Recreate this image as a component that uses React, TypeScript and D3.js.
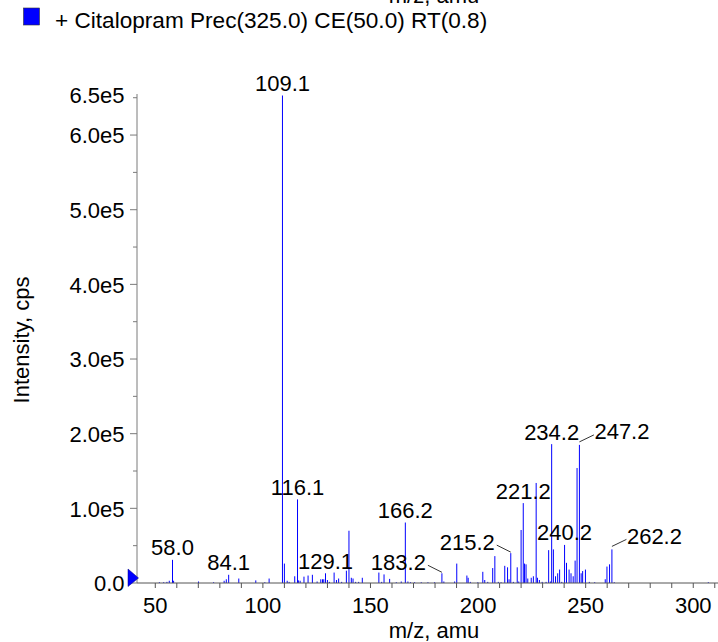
import React from "react";
import * as d3 from "d3";

// ---- data ----
const peakMz: number[] = [
  51.9, 53.9, 55.4, 56.5, 58.0, 58.5, 70.1, 77.1, 82.0, 83.0, 84.1, 88.8,
  96.7, 100.9, 102.9, 109.1, 110.0, 111.3, 112.2, 114.8, 116.1, 116.5, 117.3,
  119.1, 121.0, 123.0, 125.2, 126.9, 127.7, 128.3, 129.1, 130.0, 130.9, 133.1,
  134.2, 135.2, 136.6, 138.8, 140.0, 141.1, 141.9, 143.1, 144.5, 146.2, 153.9,
  155.2, 156.3, 158.9, 162.0, 164.3, 166.2, 167.4, 168.6, 170.5, 173.6, 176.7,
  179.8, 183.2, 184.1, 189.1, 190.1, 194.8, 195.4, 196.4, 199.9, 202.2, 203.1,
  204.5, 206.8, 207.8, 209.4, 210.7, 212.4, 213.7, 214.4, 215.2, 216.4, 218.2,
  218.9, 220.0, 221.0, 221.6, 222.3, 223.1, 224.7, 225.7, 227.0, 227.6, 228.5,
  229.8, 231.6, 232.8, 233.6, 234.2, 235.0, 236.0, 237.0, 237.9, 238.9, 240.2,
  241.1, 242.3, 243.2, 244.2, 245.1, 246.0, 247.1, 247.9, 248.6, 249.9, 251.7,
  254.2, 259.1, 259.9, 261.1, 262.2, 263.3, 307.0,
];
const peakIntensity: number[] = [
  1000, 1000, 1500, 3000, 31000, 3000, 2000, 1000, 3000, 5000, 11000, 6000,
  3500, 1000, 6000, 653000, 26000, 3000, 1500, 9000, 112000, 3500, 3000,
  8500, 10000, 11000, 2000, 5000, 5000, 5000, 13000, 4000, 1500, 14000,
  4000, 6000, 1500, 16500, 70000, 7000, 6000, 1500, 1500, 7000, 14000,
  1500, 11500, 5500, 1000, 2000, 81000, 2000, 1000, 1000, 1000, 1000,
  1000, 13000, 2000, 2000, 26000, 10000, 7000, 1500, 1000, 15000, 4000,
  1500, 20000, 36000, 1500, 1000, 23000, 21000, 5000, 40000, 1500, 21000,
  2000, 71000, 107000, 26000, 25000, 6000, 7000, 9000, 134000, 7000, 4000,
  1500, 1500, 44000, 2000, 186000, 45000, 9000, 13000, 18000, 1500, 51000,
  27000, 18000, 13000, 9000, 30000, 154000, 185000, 13000, 16000, 18000, 1500,
  1000, 5000, 22000, 25000, 45000, 1000, 1000,
];

const labelMz: number[] = [58.0, 84.1, 109.1, 116.1, 129.1, 166.2, 183.2, 215.2, 221.0, 234.2, 240.2, 247.1, 262.2];
const labelText: string[] = ["58.0", "84.1", "109.1", "116.1", "129.1", "166.2", "183.2", "215.2", "221.2", "234.2", "240.2", "247.2", "262.2"];
// -1 = label placed left with leader, 1 = right with leader, 0 = centered above
const labelSide: number[] = [0, 0, 0, 0, 0, 0, -1, -1, 0, 0, 0, 1, 1];

const xMajorTicks: number[] = [50, 100, 150, 200, 250, 300];
const yLabelTicks: number[] = [0, 100000, 200000, 300000, 400000, 500000, 600000, 650000];
const yLabelText: string[] = ["0.0", "1.0e5", "2.0e5", "3.0e5", "4.0e5", "5.0e5", "6.0e5", "6.5e5"];

const legendText = "+ Citalopram Prec(325.0) CE(50.0) RT(0.8)";
const xTitle = "m/z, amu";
const yTitle = "Intensity, cps";

const W = 718;
const H = 642;
const FONT = "'Liberation Sans', Arial, Helvetica, sans-serif";

export default function App() {
  const x = d3.scaleLinear().domain([41.5, 311.5]).range([137, 718]);
  const y = d3.scaleLinear().domain([0, 655000]).range([583, 94]);
  const x0 = x(41.5);
  const y0 = y(0);
  const blue = "#0000ff";
  const axisColor = "#7a7a7a";

  const xMinor = d3.range(50, 311, 10);
  const yMinor = d3.range(50000, 600000, 100000);

  const idxOf = (m: number) => {
    let best = 0;
    peakMz.forEach((v, i) => {
      if (Math.abs(v - m) < Math.abs(peakMz[best] - m)) best = i;
    });
    return best;
  };

  return (
    <svg
      width={W}
      height={H}
      style={{ position: "absolute", left: 0, top: 0, background: "#fff" }}
      fontFamily={FONT}
    >
      <rect x={0} y={0} width={W} height={H} fill="#fff" />
      {/* cut-off top title */}
      <text x={434} y={2.5} fontSize={22} textAnchor="middle" fill="#000">
        {xTitle}
      </text>
      {/* legend */}
      <rect x={23.5} y={8} width={16} height={17} fill={blue} stroke="#333" strokeWidth={0.6} />
      <text x={55} y={28} fontSize={22.6} fill="#000">
        {legendText}
      </text>

      {/* bars */}
      <g>
        {peakMz.map((m, i) => (
          <line
            key={i}
            x1={x(m)}
            x2={x(m)}
            y1={y0}
            y2={y(peakIntensity[i])}
            stroke={blue}
            strokeWidth={1}
          />
        ))}
      </g>

      {/* axes */}
      <line x1={x0} x2={x0} y1={y0} y2={y(655000)} stroke={axisColor} strokeWidth={1} />
      <line x1={x0} x2={W} y1={y0} y2={y0} stroke="#555" strokeWidth={1} />
      {xMinor.map((t) => (
        <line key={"xt" + t} x1={x(t)} x2={x(t)} y1={y0} y2={y0 + 5} stroke="#555" strokeWidth={1} />
      ))}
      {xMajorTicks.map((t) => (
        <text key={"xl" + t} x={x(t)} y={613} fontSize={22} textAnchor="middle" fill="#000">
          {t}
        </text>
      ))}
      {yLabelTicks.map((t) => (
        <line
          key={"yt" + t}
          x1={x0 - (t % 100000 === 0 ? 7 : 4)}
          x2={x0}
          y1={y(t)}
          y2={y(t)}
          stroke={axisColor}
          strokeWidth={1}
        />
      ))}
      {yMinor.map((t) => (
        <line key={"ym" + t} x1={x0 - 4} x2={x0} y1={y(t)} y2={y(t)} stroke={axisColor} strokeWidth={1} />
      ))}
      {yLabelTicks.map((t, i) => (
        <text
          key={"yl" + t}
          x={124.5}
          y={y(t) + (i === yLabelTicks.length - 1 ? 5.5 : 8.3)}
          fontSize={22}
          textAnchor="end"
          fill="#000"
        >
          {yLabelText[i]}
        </text>
      ))}
      {/* origin marker */}
      <polygon
        points={`${x0 - 9},${y0 - 14} ${x0 - 9},${y0 + 3.5} ${x0 + 1.5},${y0 - 5}`}
        fill={blue}
        stroke="#000080"
        strokeWidth={0.5}
      />

      {/* peak labels */}
      {labelMz.map((m, i) => {
        const k = idxOf(m);
        const px = x(peakMz[k]);
        const py = y(peakIntensity[k]);
        const side = labelSide[i];
        if (side === 0) {
          return (
            <text key={"pl" + i} x={px} y={py - 4.5} fontSize={22} textAnchor="middle" fill="#000">
              {labelText[i]}
            </text>
          );
        }
        if (side < 0) {
          return (
            <g key={"pl" + i}>
              <line x1={px - 14} y1={py - 8} x2={px} y2={py - 1} stroke="#000" strokeWidth={0.8} />
              <text x={px - 16} y={py - 3.5} fontSize={22} textAnchor="end" fill="#000">
                {labelText[i]}
              </text>
            </g>
          );
        }
        return (
          <g key={"pl" + i}>
            <line x1={px} y1={py - 3} x2={px + 14.5} y2={py - 10} stroke="#000" strokeWidth={0.8} />
            <text x={px + 15} y={py - 5.5} fontSize={22} textAnchor="start" fill="#000">
              {labelText[i]}
            </text>
          </g>
        );
      })}

      {/* axis titles */}
      <text x={434} y={637.5} fontSize={22} textAnchor="middle" fill="#000">
        {xTitle}
      </text>
      <text
        transform={`translate(29,340) rotate(-90)`}
        fontSize={22}
        textAnchor="middle"
        fill="#000"
      >
        {yTitle}
      </text>
    </svg>
  );
}
